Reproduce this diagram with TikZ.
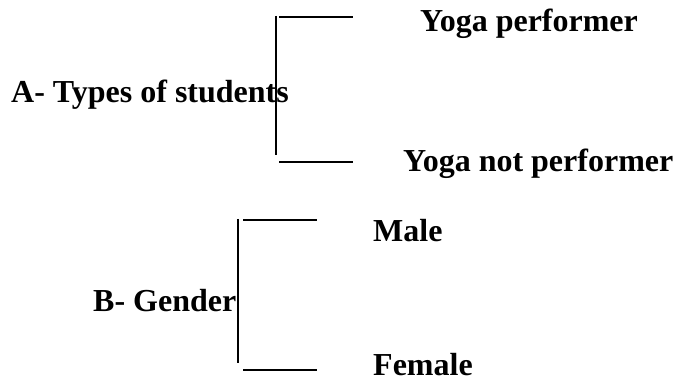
\documentclass[tikz,border=0pt]{standalone}
\usepackage{fontspec}
\setmainfont{Liberation Serif}
\begin{document}
\begin{tikzpicture}[x=1pt,y=1pt,
  lbl/.style={anchor=base west,inner sep=0pt,text depth=0pt,font=\fontsize{32}{36}\selectfont\bfseries},
  brk/.style={line width=1.8pt,black}]
\useasboundingbox (0,0) rectangle (680,382);
% labels (y = 382 - pixel baseline)
\node[lbl] (yp)  at (420,350) {Yoga performer};
\node[lbl] (ts)  at (11,279) {A- Types of students};
\node[lbl] (ynp) at (403,210) {Yoga not performer};
\node[lbl] (m)   at (373,140) {Male};
\node[lbl] (g)   at (93,70) {B- Gender};
\node[lbl] (f)   at (373,6) {Female};
% bracket A
\coordinate (a1) at (276,366);
\coordinate (a2) at (276,227);
\coordinate (a3) at (279,365);
\coordinate (a4) at (353,365);
\coordinate (a5) at (279,220);
\coordinate (a6) at (353,220);
\draw[brk] (a1) -- (a2);
\draw[brk] (a3) -- (a4);
\draw[brk] (a5) -- (a6);
% bracket B
\coordinate (b1) at (238,163);
\coordinate (b2) at (238,19);
\coordinate (b3) at (243,162);
\coordinate (b4) at (317,162);
\coordinate (b5) at (243,12);
\coordinate (b6) at (317,12);
\draw[brk] (b1) -- (b2);
\draw[brk] (b3) -- (b4);
\draw[brk] (b5) -- (b6);
\end{tikzpicture}
\end{document}
